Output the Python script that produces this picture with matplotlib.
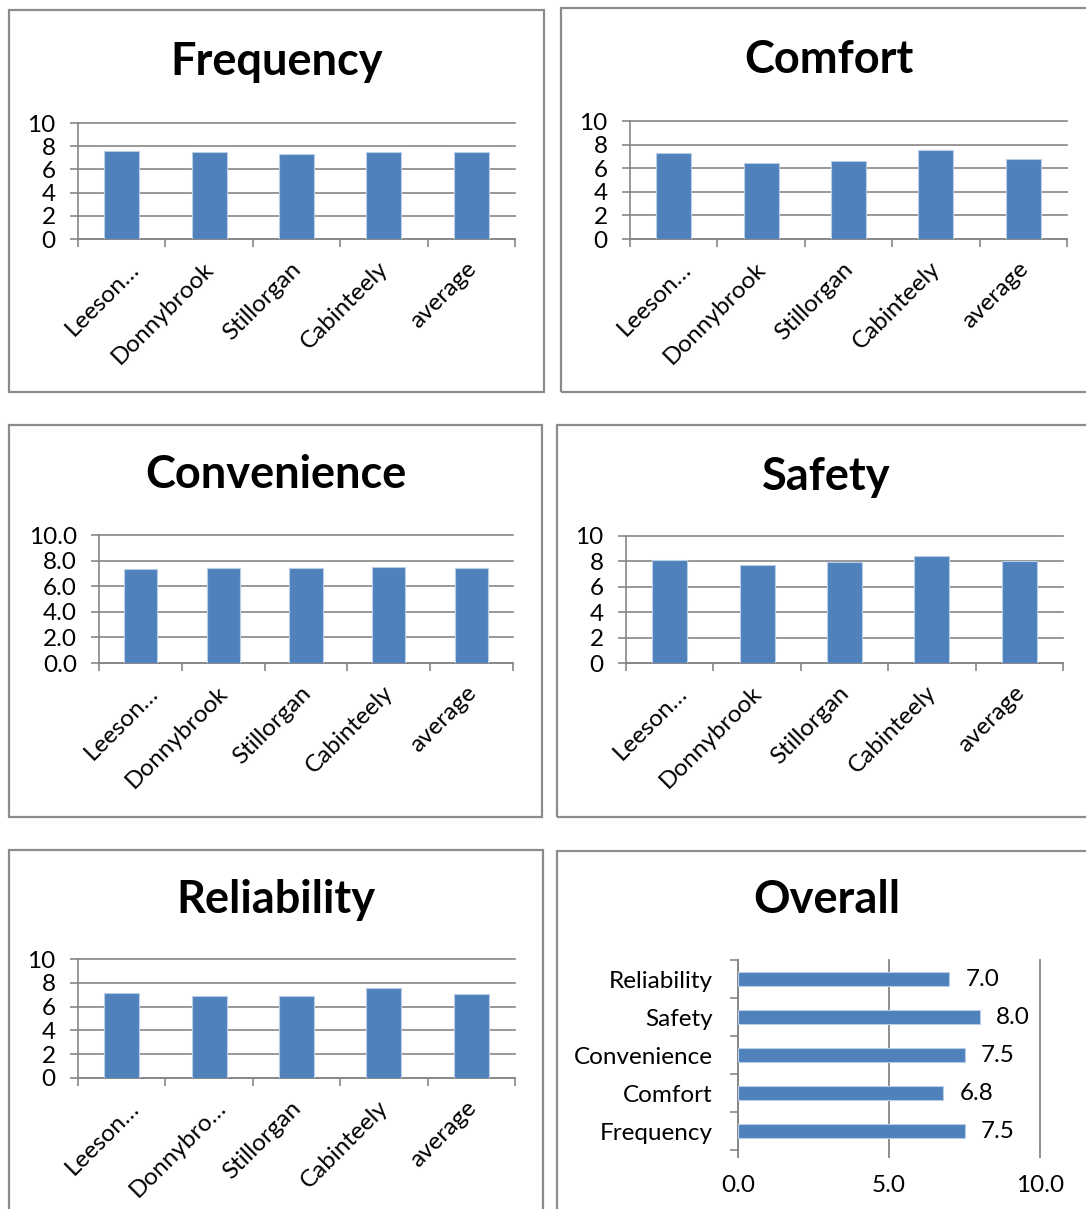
import numpy as np
import matplotlib.pyplot as plt
from matplotlib.patches import Rectangle
from matplotlib.ticker import FormatStrFormatter

plt.rcParams['font.family'] = ['Lato', 'DejaVu Sans']

W, H = 1086, 1209
BLUE = '#4f81bd'
EDGE = '#b9cde5'
GRAY = '#868686'
BOX = '#8c8c8c'
SMALL = 17.5

sites = ["Leeson…", "Donnybrook", "Stillorgan", "Cabinteely", "average"]
sites_short = ["Leeson…", "Donnybro…", "Stillorgan", "Cabinteely", "average"]

frequency = [7.59, 7.53, 7.35, 7.50, 7.46]
comfort = [7.33, 6.43, 6.62, 7.55, 6.82]
convenience = [7.37, 7.45, 7.45, 7.48, 7.46]
safety = [8.08, 7.74, 7.92, 8.45, 8.00]
reliability = [7.14, 6.91, 6.86, 7.58, 7.03]

overall_names = ["Frequency", "Comfort", "Convenience", "Safety", "Reliability"]
overall_scores = [7.5, 6.8, 7.5, 8.0, 7.0]

fig = plt.figure(figsize=(W / 100, H / 100), dpi=100)


def frac(x0, y0, x1, y1):
    # pixel box (top-left origin) -> figure fraction rect
    return [x0 / W, 1 - y1 / H, (x1 - x0) / W, (y1 - y0) / H]


def frame(box, title, title_y):
    x0, y0, x1, y1 = box
    r = frac(*box)
    fig.add_artist(Rectangle((r[0], r[1]), r[2], r[3], transform=fig.transFigure,
                             fill=False, edgecolor=BOX, linewidth=1.6))
    fig.text((x0 + x1) / 2 / W, 1 - title_y / H, title, ha='center', va='center',
             fontsize=32.5, fontweight='bold')


def bar_panel(box, axbox, title, title_y, values, labels, fmt='%d'):
    frame(box, title, title_y)
    ax = fig.add_axes(frac(*axbox))
    x = np.arange(len(values))
    ax.bar(x, values, width=0.4, color=BLUE, edgecolor=EDGE, linewidth=0.8, zorder=3)
    ax.set_xlim(-0.5, len(values) - 0.5)
    ax.set_ylim(0, 10)
    ax.set_yticks(range(0, 11, 2))
    ax.yaxis.set_major_formatter(FormatStrFormatter(fmt))
    ax.grid(axis='y', color=GRAY, linewidth=1.2)
    for line in ax.get_ygridlines():
        line.set_clip_on(False)
    ax.set_axisbelow(True)
    for side in ('top', 'right'):
        ax.spines[side].set_visible(False)
    for side in ('left', 'bottom'):
        ax.spines[side].set_color(GRAY)
        ax.spines[side].set_linewidth(1.2)
    ax.set_xticks(np.arange(-0.5, len(values), 1))
    ax.set_xticklabels([])
    ax.tick_params(axis='x', length=6, color=GRAY, width=1.2)
    ax.tick_params(axis='y', length=6, color=GRAY, width=1.2, pad=10, labelsize=SMALL)
    for i, lab in enumerate(labels):
        dx = 10 if lab.endswith('…') else 1
        ax.annotate(lab, xy=(i, 0), xycoords=('data', 'axes fraction'),
                    xytext=(dx, -19), textcoords='offset points',
                    rotation=45, rotation_mode='anchor', ha='right', va='center',
                    fontsize=SMALL)
    return ax


bar_panel((9, 10, 544, 392), (78, 123, 515, 239), "Frequency", 62, frequency, sites)
bar_panel((561, 8, 1096, 392), (630, 121, 1067, 239), "Comfort", 60, comfort, sites)
bar_panel((9, 425, 542, 817), (99, 535, 513, 663), "Convenience", 475,
          convenience, sites, fmt='%.1f')
bar_panel((557, 425, 1096, 817), (626, 536, 1063, 663), "Safety", 477, safety, sites)
bar_panel((9, 850, 543, 1220), (78, 959, 515, 1078), "Reliability", 900,
          reliability, sites_short)

# overall horizontal bars
frame((557, 851, 1096, 1220), "Overall", 900)
ax = fig.add_axes(frac(738, 960, 1040, 1150))
y = np.arange(len(overall_scores))
bars = ax.barh(y, overall_scores, height=0.38, color=BLUE, edgecolor=EDGE,
               linewidth=0.8, zorder=3)
ax.bar_label(bars, fmt='%.1f', padding=12, fontsize=SMALL)
ax.set_xlim(0, 10)
ax.set_ylim(-0.5, len(overall_scores) - 0.5)
ax.set_xticks([0, 5, 10])
ax.xaxis.set_major_formatter(FormatStrFormatter('%.1f'))
ax.grid(axis='x', color=GRAY, linewidth=1.3)
for line in ax.get_xgridlines():
    line.set_clip_on(False)
ax.set_axisbelow(True)
for side in ('top', 'right', 'bottom'):
    ax.spines[side].set_visible(False)
ax.spines['left'].set_color(GRAY)
ax.spines['left'].set_linewidth(1.2)
ax.set_yticks(np.arange(-0.5, len(overall_scores), 1))
ax.set_yticklabels([])
ax.set_yticks(y, minor=True)
ax.set_yticklabels(overall_names, minor=True)
ax.tick_params(axis='y', which='major', length=6, color=GRAY, width=1.2)
ax.tick_params(axis='y', which='minor', length=0, pad=18, labelsize=SMALL)
ax.tick_params(axis='x', length=6, color=GRAY, width=1.3, pad=12, labelsize=SMALL)

fig.savefig('out.png', dpi=100)
